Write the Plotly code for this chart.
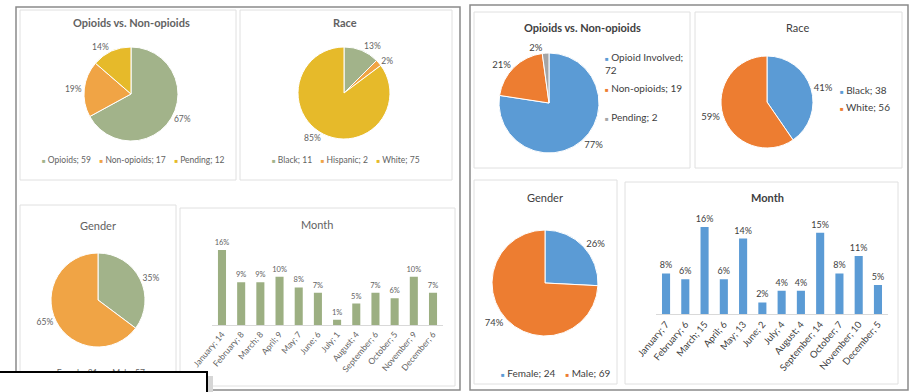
import plotly.graph_objects as go

W, H = 912, 392

# ---------------- data ----------------
months = ["January", "February", "March", "April", "May", "June", "July",
          "August", "September", "October", "November", "December"]

# left panel
l_op_labels = ["Opioids", "Non-opioids", "Pending"]
l_op_values = [59, 17, 12]
l_op_pct = ["67%", "19%", "14%"]

l_race_labels = ["Black", "Hispanic", "White"]
l_race_values = [11, 2, 75]
l_race_pct = ["13%", "2%", "85%"]

l_gender_labels = ["Female", "Male"]
l_gender_values = [31, 57]
l_gender_pct = ["35%", "65%"]

l_month_values = [14, 8, 8, 9, 7, 6, 1, 4, 6, 5, 9, 6]
l_month_pct = ["16%", "9%", "9%", "10%", "8%", "7%", "1%", "5%", "7%", "6%", "10%", "7%"]

# right panel
r_op_labels = ["Opioid Involved", "Non-opioids", "Pending"]
r_op_values = [72, 19, 2]
r_op_pct = ["77%", "21%", "2%"]

r_race_labels = ["Black", "White"]
r_race_values = [38, 56]
r_race_pct = ["41%", "59%"]

r_gender_labels = ["Female", "Male"]
r_gender_values = [24, 69]
r_gender_pct = ["26%", "74%"]

r_month_values = [7, 6, 15, 6, 13, 2, 4, 4, 14, 7, 10, 5]
r_month_pct = ["8%", "6%", "16%", "6%", "14%", "2%", "4%", "4%", "15%", "8%", "11%", "5%"]

# ---------------- styles ----------------
L_GREEN, L_ORANGE, L_YELLOW = "#A2B38A", "#F0A445", "#E6BA2A"
L_BAR = "#9CAF82"
R_BLUE, R_ORANGE, R_GRAY = "#5B9BD5", "#ED7D31", "#A5A5A5"
FONT = "Lato, 'Open Sans', sans-serif"
L_TXT = "#626262"
R_TXT = "#404040"


def px_x(x):
    return x / W


def px_y(y):
    return 1 - y / H


def dom(cx, cy, r):
    return dict(x=[px_x(cx - r), px_x(cx + r)], y=[px_y(cy + r), px_y(cy - r)])


fig = go.Figure()


def add_pie(labels, values, pct, colors, cx, cy, r, txtcolor, size):
    fig.add_trace(go.Pie(
        labels=labels, values=values, text=pct, textinfo="text",
        textposition="outside", sort=False, direction="clockwise", rotation=0,
        marker=dict(colors=colors, line=dict(color="white", width=1)),
        textfont=dict(size=size, color=txtcolor, family=FONT),
        domain=dom(cx, cy, r), showlegend=False, automargin=False,
        hoverinfo="label+value+percent",
    ))


add_pie(l_op_labels, l_op_values, l_op_pct, [L_GREEN, L_ORANGE, L_YELLOW], 131, 94, 47, L_TXT, 8.5)
add_pie(l_race_labels, l_race_values, l_race_pct, [L_GREEN, L_ORANGE, L_YELLOW], 344, 93, 46, L_TXT, 8.5)
add_pie(l_gender_labels, l_gender_values, l_gender_pct, [L_GREEN, L_ORANGE], 98, 300, 47, L_TXT, 8.5)
add_pie(r_op_labels, r_op_values, r_op_pct, [R_BLUE, R_ORANGE, R_GRAY], 549, 103, 50, R_TXT, 9.5)
add_pie(r_race_labels, r_race_values, r_race_pct, [R_BLUE, R_ORANGE], 767, 102, 46, R_TXT, 9.5)
add_pie(r_gender_labels, r_gender_values, r_gender_pct, [R_BLUE, R_ORANGE], 545, 283, 53, R_TXT, 9.5)

l_ticks = [f"{m}; {v}" for m, v in zip(months, l_month_values)]
r_ticks = [f"{m}; {v}" for m, v in zip(months, r_month_values)]

fig.add_trace(go.Bar(
    x=l_ticks, y=l_month_values, text=l_month_pct, textposition="outside",
    constraintext="none",
    textfont=dict(size=7.5, color=L_TXT, family=FONT), marker_color=L_BAR,
    marker_line_width=0, width=0.42, cliponaxis=False, xaxis="x", yaxis="y",
    showlegend=False))
fig.add_trace(go.Bar(
    x=r_ticks, y=r_month_values, text=r_month_pct, textposition="outside",
    constraintext="none",
    textfont=dict(size=9, color=R_TXT, family=FONT), marker_color=R_BLUE,
    marker_line_width=0, width=0.42, cliponaxis=False, xaxis="x2", yaxis="y2",
    showlegend=False))

# ---------------- boxes ----------------
shapes = []


def rect(x0, y0, x1, y1, color, width):
    shapes.append(dict(type="rect", xref="paper", yref="paper",
                       x0=px_x(x0), x1=px_x(x1), y0=px_y(y1), y1=px_y(y0),
                       line=dict(color=color, width=width), layer="below"))


INNER = "#e0e0e0"
rect(20, 10, 236, 180, INNER, 1)
rect(240, 10, 452, 180, INNER, 1)
rect(20, 205, 176, 386, INNER, 1)
rect(180, 208, 455, 386, INNER, 1)
rect(474, 12, 690, 168, INNER, 1)
rect(695, 12, 902, 168, INNER, 1)
rect(474, 180, 617, 384, INNER, 1)
rect(625, 182, 898, 384, INNER, 1)
OUTER = "#8a8a8a"
rect(16, 7, 460, 390, OUTER, 1.5)
rect(470, 5, 908, 390, OUTER, 1.5)
# shadow of the overlaid box
shapes.append(dict(type="rect", xref="paper", yref="paper",
                   x0=px_x(207), x1=px_x(213), y0=0, y1=px_y(376),
                   fillcolor="#d6d6d6", line=dict(width=0), layer="above"))

# ---------------- titles & legends ----------------
ann = []


def text(x, y, s, size, color, bold=False, xanchor="center"):
    ann.append(dict(x=px_x(x), y=px_y(y), xref="paper", yref="paper", text=f"<b>{s}</b>" if bold else s,
                    showarrow=False, xanchor=xanchor, yanchor="middle",
                    font=dict(size=size, color=color, family=FONT)))


text(131, 22, "Opioids vs. Non-opioids", 11, L_TXT, True)
text(345, 22, "Race", 11, L_TXT, True)
text(98, 225, "Gender", 11, L_TXT)
text(317, 224, "Month", 11, L_TXT)
text(582, 28, "Opioids vs. Non-opioids", 11, R_TXT, True)
text(797, 28, "Race", 11, R_TXT)
text(545, 198, "Gender", 11, R_TXT)
text(767, 198, "Month", 11, R_TXT, True)


def item(lab, val, col, sep="; "):
    return f"<span style='color:{col};font-size:6px'>■</span> {lab}{sep}{val}"


def hlegend(labels, values, colors, x, y, size, color):
    s = "    ".join(item(l, v, c) for l, v, c in zip(labels, values, colors))
    text(x, y, s, size, color)


hlegend(l_op_labels, l_op_values, [L_GREEN, L_ORANGE, L_YELLOW], 133, 160, 8.5, L_TXT)
hlegend(l_race_labels, l_race_values, [L_GREEN, L_ORANGE, L_YELLOW], 346, 160, 8.5, L_TXT)
hlegend(l_gender_labels, l_gender_values, [L_GREEN, L_ORANGE], 98, 373, 8.5, L_TXT)
hlegend(r_gender_labels, r_gender_values, [R_BLUE, R_ORANGE], 555, 373, 10, R_TXT)

# right vertical legends
op_y = [64, 88, 117]
r_op_cols = [R_BLUE, R_ORANGE, R_GRAY]
for i, (l, v, c) in enumerate(zip(r_op_labels, r_op_values, r_op_cols)):
    sep = ";<br>" if len(l) > 12 else "; "
    ann.append(dict(x=px_x(603), y=px_y(op_y[i]), xref="paper", yref="paper",
                    text=item(l, v, c, sep), showarrow=False, xanchor="left",
                    yanchor="middle", align="left",
                    font=dict(size=10, color=R_TXT, family=FONT)))
race_y = [90, 107]
for i, (l, v, c) in enumerate(zip(r_race_labels, r_race_values, [R_BLUE, R_ORANGE])):
    text(838, race_y[i], item(l, v, c), 10, R_TXT, xanchor="left")

# overlaid white box with black border (bottom-left)
ann.append(dict(x=px_x(208), y=px_y(371), xref="paper", yref="paper", text=" ",
                showarrow=False, xanchor="right", yanchor="top", width=214, height=30,
                bgcolor="white", bordercolor="black", borderwidth=2, borderpad=0))

# ---------------- axes ----------------
l_unit = 75 / 14
r_unit = 87 / 15
fig.update_layout(
    template="none",
    width=W, height=H, margin=dict(l=0, r=0, t=0, b=0, pad=0, autoexpand=False),
    paper_bgcolor="white", plot_bgcolor="rgba(0,0,0,0)",
    shapes=shapes, annotations=ann,
    font=dict(family=FONT),
    showlegend=False,
    xaxis=dict(domain=[px_x(212.4), px_x(442.6)], anchor="y", type="category",
               showgrid=False, showline=True, linecolor="#d9d9d9", linewidth=1,
               ticks="", tickangle=-50, tickfont=dict(size=8.5, color=L_TXT, family=FONT),
               automargin=False, zeroline=False),
    yaxis=dict(domain=[px_y(325), px_y(325 - 16 * l_unit)], range=[0, 16], visible=False,
               anchor="x", automargin=False, showgrid=False, zeroline=False),
    xaxis2=dict(domain=[px_x(656.4), px_x(887.6)], anchor="y2", type="category",
                showgrid=False, showline=True, linecolor="#d9d9d9", linewidth=1,
                ticks="", tickangle=-50, tickfont=dict(size=9.5, color=R_TXT, family=FONT),
                automargin=False, zeroline=False),
    yaxis2=dict(domain=[px_y(314), px_y(314 - 17 * r_unit)], range=[0, 17], visible=False,
                anchor="x2", automargin=False, showgrid=False, zeroline=False),
)

fig.write_html("out.html")
